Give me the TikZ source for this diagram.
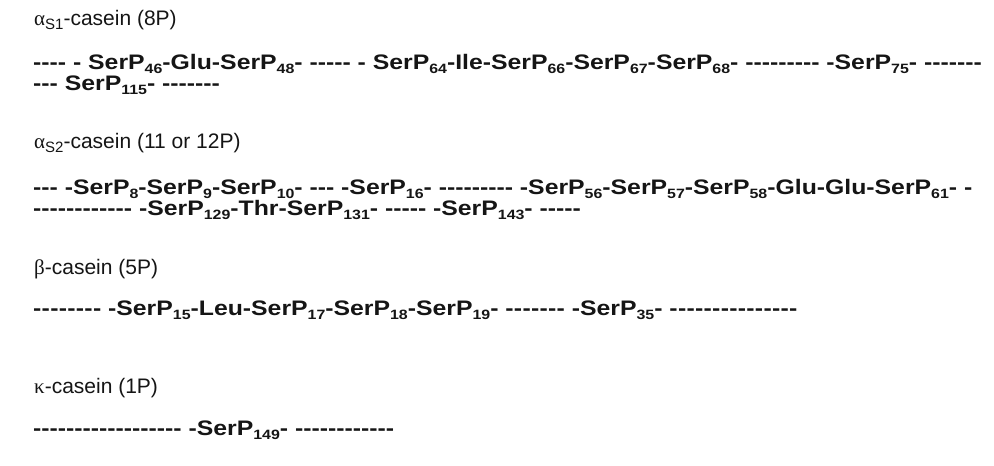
\documentclass[tikz,border=0pt]{standalone}
\usepackage{fontspec}
\setmainfont{Liberation Sans}[Ligatures=TeXOff]
\newfontfamily\greekff{Liberation Serif}[Ligatures=TeXOff]
\newfontfamily\chainff{Liberation Sans}[Ligatures=TeXOff, FakeStretch=1.18]

% room between consecutive hyphens of a chain line, set per line
\newlength\hyroom
\newXeTeXintercharclass\hyphenclass
\XeTeXcharclass`\-=\hyphenclass
\XeTeXinterchartoks\hyphenclass\hyphenclass={\kern\hyroom}
\newcommand\chainfont{\chainff\fontsize{21}{21}\selectfont\bfseries\XeTeXinterchartokenstate=1\relax}
\newcommand\room[1]{\setlength\hyroom{#1}}

\definecolor{ink}{HTML}{151515}

% residue number under a phosphoserine
\newcommand\resno[1]{\raisebox{-4.5pt}{\fontsize{13.5}{13.5}\selectfont #1}}
% Greek letter of a casein name
\newcommand\gk[1]{{\greekff #1}}
% fraction subscript of a casein name
\newcommand\frsub[1]{\raisebox{-4.5pt}{\fontsize{15}{15}\selectfont #1}}

\tikzset{
  title/.style={anchor=base west, inner sep=0pt, text=ink,
    font=\fontsize{21}{21}\selectfont},
  chain/.style={anchor=base west, inner sep=0pt, text=ink, font=\chainfont},
}

\begin{document}
\begin{tikzpicture}[x=1pt, y=-1pt]
\useasboundingbox[fill=white] (0,0) rectangle (994,466);

% alpha-s1 casein
\node[title] (as1) at (34,25) {\gk{α}\frsub{S1}-casein (8P)};
\node[chain] (as1a) at (33,69) {\room{0pt}---- - SerP\resno{46}-Glu-SerP\resno{48}- ----- - SerP\resno{64}-Ile-SerP\resno{66}-SerP\resno{67}-SerP\resno{68}- --------- -SerP\resno{75}- -------};
\node[chain] (as1b) at (33,90) {\room{0pt}--- SerP\resno{115}- -------};

% alpha-s2 casein
\node[title] (as2) at (34,148) {\gk{α}\frsub{S2}-casein (11 or 12P)};
\node[chain] (as2a) at (33,194) {\room{0pt}--- -SerP\resno{8}-SerP\resno{9}-SerP\resno{10}- --- -SerP\resno{16}- --------- -SerP\resno{56}-SerP\resno{57}-SerP\resno{58}-Glu-Glu-SerP\resno{61}- -};
\node[chain] (as2b) at (33,215) {\room{0pt}------------ -SerP\resno{129}-Thr-SerP\resno{131}- ----- -SerP\resno{143}- -----};

% beta casein
\node[title] (bc) at (34,274) {\gk{β}-casein (5P)};
\node[chain] (bca) at (33,315) {\room{0.3pt}-------- -SerP\resno{15}-Leu-SerP\resno{17}-SerP\resno{18}-SerP\resno{19}- ------- -SerP\resno{35}- ---------------};

% kappa casein
\node[title] (kc) at (34,393) {\gk{κ}-casein (1P)};
\node[chain] (kca) at (33,435) {\room{0pt}------------------ -SerP\resno{149}- ------------};
\end{tikzpicture}
\end{document}
